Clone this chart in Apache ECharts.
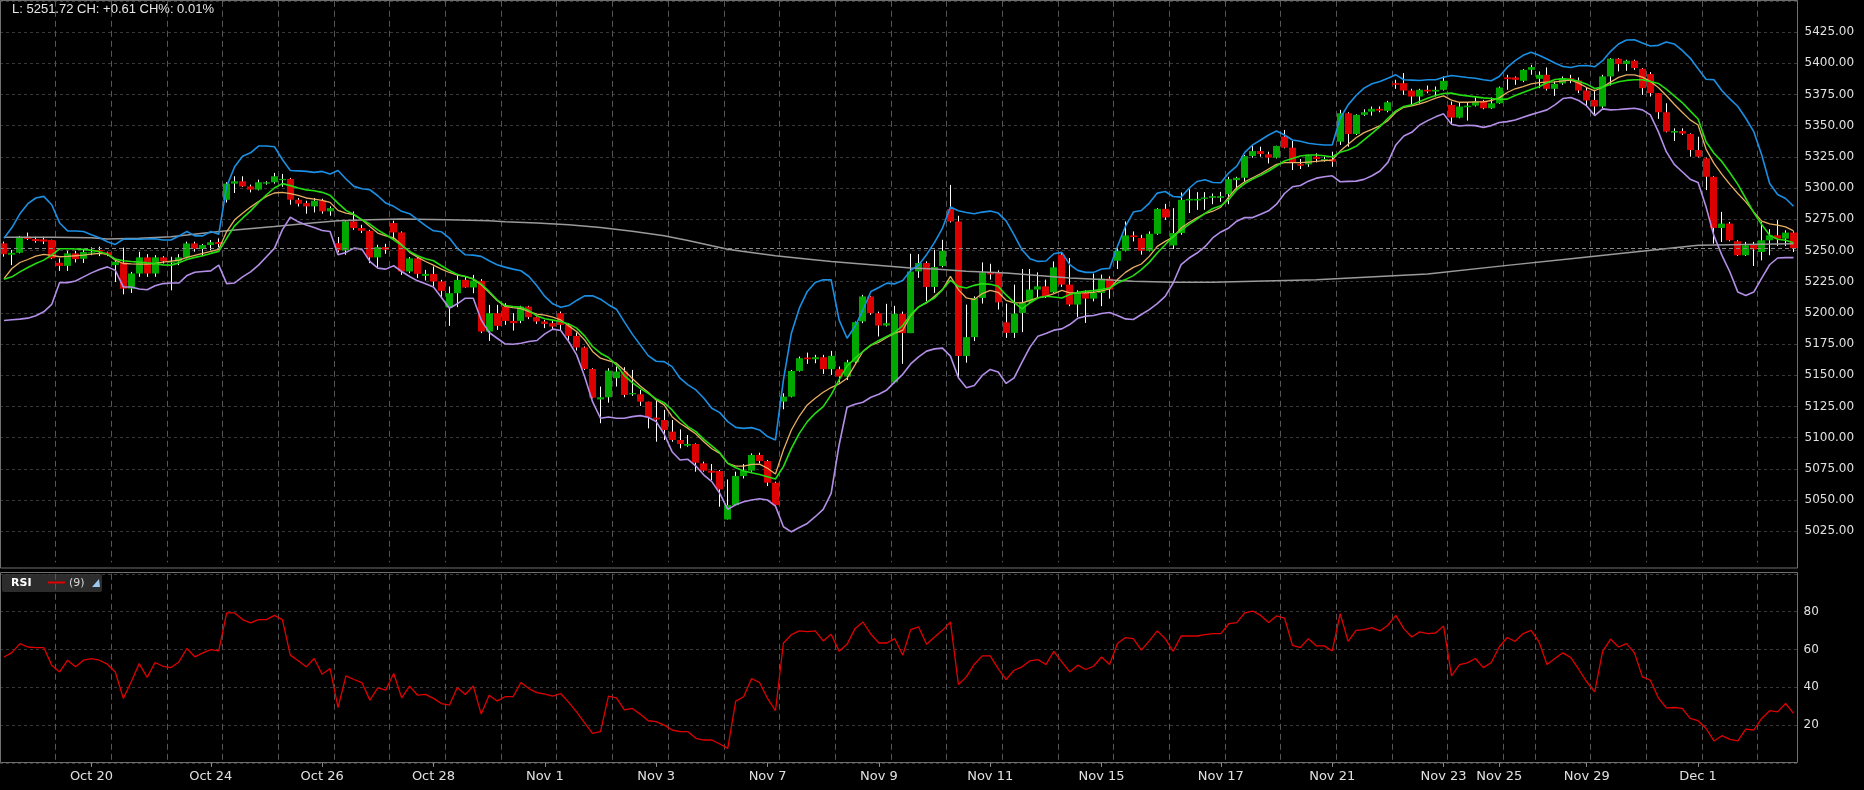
<!DOCTYPE html>
<html>
<head>
<meta charset="utf-8">
<title>Hourly candles with bands and RSI</title>
<script src="https://cdn.jsdelivr.net/npm/echarts@6/dist/echarts.min.js"></script>
<style>
  html, body { margin: 0; padding: 0; background: #000; }
  #chart { width: 1864px; height: 790px; }
</style>
</head>
<body>
<div id="chart"></div>
<script>
// hourly bars, Oct 18 - Dec 2 (7 bars a session, Nov 25 is a half session)
var dayBars = [7,7,7,7,7,7,7,7,7,7, 7,7,7,7,7,7,7,7,7,7, 7,7,7,7,7,7,7, 4, 7,7,7,7, 5];

var tickBars = [11, 26, 40, 54, 68, 82, 96, 110, 124, 138, 153, 167, 181, 188, 199, 213];
var tickText = ['Oct 20','Oct 24','Oct 26','Oct 28','Nov 1','Nov 3','Nov 7','Nov 9','Nov 11','Nov 15','Nov 17','Nov 21','Nov 23','Nov 25','Nov 29','Dec 1'];

var open = [
5255.6,5246.5,5248.1,5261.0,5259.1,5258.8,5258.3,5240.1,5237.6,5247.6,
5243.3,5247.5,5250.3,5248.4,5238.2,5240.3,5219.4,5231.5,5244.4,5231.5,
5244.4,5240.0,5240.9,5244.4,5255.6,5251.1,5254.3,5256.7,5290.6,5303.5,
5305.4,5301.3,5298.7,5303.5,5304.6,5306.2,5307.3,5290.6,5287.9,5285.3,
5289.8,5281.3,5255.8,5250.0,5273.2,5267.9,5265.7,5244.4,5252.6,5271.9,
5264.4,5233.1,5243.6,5229.6,5231.2,5225.1,5204.2,5215.7,5226.4,5220.3,
5225.6,5185.0,5199.7,5205.0,5193.5,5193.5,5205.0,5196.5,5193.0,5191.7,
5199.7,5190.3,5181.5,5172.2,5155.0,5130.6,5132.3,5147.6,5152.9,5134.7,
5134.7,5128.8,5116.0,5114.1,5104.8,5098.1,5093.5,5094.9,5079.4,5073.5,
5073.2,5034.4,5045.9,5069.2,5073.5,5086.1,5081.2,5063.9,5128.8,5132.8,
5153.4,5164.1,5162.8,5164.4,5154.8,5154.8,5148.9,5160.4,5193.1,5213.1,
5199.7,5189.8,5144.3,5199.2,5183.7,5233.2,5239.9,5220.7,5237.5,5283.1,
5273.2,5165.3,5180.5,5211.9,5232.4,5232.4,5192.4,5183.9,5199.9,5208.4,
5218.6,5221.2,5216.4,5246.6,5222.6,5206.6,5215.9,5211.4,5215.9,5227.4,
5241.7,5249.7,5262.0,5259.9,5249.7,5263.3,5283.3,5254.0,5263.9,5290.0,
5290.0,5291.3,5292.1,5292.1,5295.1,5306.3,5308.2,5325.6,5329.6,5327.0,
5324.3,5341.2,5332.3,5319.2,5318.9,5325.1,5321.6,5323.2,5337.1,5359.9,
5343.3,5358.6,5361.2,5363.4,5361.8,5384.0,5384.0,5378.1,5373.3,5378.7,
5377.3,5378.7,5366.6,5356.4,5364.7,5366.0,5369.8,5363.9,5367.9,5388.6,
5388.6,5385.9,5394.7,5387.5,5390.7,5379.5,5383.8,5388.0,5386.2,5378.1,
5370.6,5365.3,5389.4,5403.6,5399.3,5402.0,5395.5,5391.3,5376.0,5360.7,
5344.4,5345.7,5343.3,5330.4,5323.7,5309.0,5268.0,5271.5,5257.3,5246.1,
5254.6,5248.7,5258.1,5262.1,5259.4,5264.3
];
var close = [
5247.0,5248.1,5261.0,5259.1,5257.5,5257.0,5243.6,5237.6,5247.6,5243.0,
5248.7,5248.5,5249.0,5246.2,5240.9,5219.4,5231.5,5244.4,5231.5,5244.4,
5241.4,5241.0,5244.4,5255.6,5251.1,5254.3,5256.5,5255.1,5303.5,5305.4,
5301.3,5298.7,5304.6,5304.6,5309.4,5307.3,5290.6,5287.4,5285.3,5289.8,
5281.3,5283.9,5250.0,5273.2,5267.9,5265.7,5244.4,5252.6,5250.5,5264.4,
5233.1,5243.6,5231.2,5231.2,5225.1,5217.6,5215.7,5226.4,5220.3,5225.9,
5185.0,5199.7,5189.5,5193.5,5191.7,5205.0,5196.5,5193.0,5191.1,5189.0,
5190.3,5181.5,5172.2,5155.0,5132.0,5132.3,5153.7,5152.9,5134.2,5135.7,
5128.8,5116.0,5114.4,5106.1,5098.1,5094.9,5094.9,5079.9,5073.5,5071.9,
5058.5,5045.9,5069.2,5073.5,5086.1,5081.2,5063.9,5045.9,5132.8,5153.4,
5163.6,5162.8,5164.4,5154.8,5165.5,5148.9,5160.4,5192.5,5213.1,5199.7,
5189.8,5191.7,5199.2,5183.7,5233.1,5239.9,5220.7,5236.7,5249.7,5273.2,
5165.3,5180.5,5211.9,5232.4,5230.8,5208.4,5183.9,5199.4,5208.4,5218.6,
5221.2,5213.2,5236.4,5222.6,5206.6,5215.9,5211.4,5215.9,5227.4,5218.6,
5249.7,5262.0,5260.7,5249.7,5263.3,5283.3,5276.4,5263.9,5290.5,5291.3,
5291.3,5292.4,5293.5,5293.5,5307.1,5308.2,5325.6,5329.6,5327.2,5324.3,
5333.7,5332.3,5320.3,5317.8,5325.9,5323.2,5323.2,5321.1,5359.9,5343.3,
5358.6,5360.7,5363.4,5362.0,5368.7,5382.7,5378.1,5373.3,5378.7,5377.3,
5378.7,5385.9,5356.4,5365.3,5366.0,5369.3,5363.9,5367.9,5380.5,5387.2,
5386.7,5394.7,5396.9,5390.7,5379.5,5383.5,5388.0,5385.9,5378.1,5370.1,
5365.3,5389.4,5403.6,5399.3,5402.0,5396.1,5380.0,5376.0,5360.7,5345.2,
5345.7,5343.6,5330.4,5325.1,5309.0,5268.0,5271.5,5258.1,5246.1,5254.1,
5250.8,5258.1,5262.1,5259.4,5264.3,5251.72
];
var high = [
5257.0,5250.3,5261.6,5264.3,5261.0,5261.0,5258.6,5243.6,5249.7,5249.7,
5250.3,5252.4,5253.0,5249.0,5242.2,5252.2,5232.8,5248.9,5247.0,5246.2,
5245.4,5244.9,5247.0,5257.0,5257.0,5255.1,5258.3,5259.6,5304.6,5309.4,
5309.4,5302.7,5306.7,5305.4,5312.1,5311.3,5308.1,5292.0,5289.8,5292.0,
5291.4,5285.3,5260.7,5273.5,5281.2,5270.5,5266.5,5254.5,5255.3,5273.8,
5265.2,5244.6,5244.6,5234.4,5237.1,5226.4,5221.1,5231.2,5229.1,5230.4,
5227.0,5206.4,5206.4,5207.7,5199.7,5205.6,5205.6,5197.0,5194.3,5193.8,
5201.0,5191.7,5184.2,5173.0,5155.6,5140.9,5155.6,5156.9,5156.4,5154.2,
5138.2,5128.8,5129.6,5122.2,5114.1,5106.6,5102.1,5095.4,5080.7,5078.8,
5074.0,5066.5,5072.7,5078.8,5087.4,5087.9,5082.0,5064.7,5135.5,5154.2,
5164.9,5168.1,5166.3,5166.3,5169.5,5156.9,5162.3,5193.0,5214.4,5213.6,
5201.0,5207.2,5205.6,5201.0,5247.3,5247.0,5241.2,5250.5,5258.5,5302.5,
5277.7,5206.6,5213.2,5240.4,5239.3,5234.0,5207.4,5222.6,5235.1,5235.1,
5232.4,5226.6,5241.2,5248.4,5243.9,5218.0,5218.0,5231.4,5230.6,5229.2,
5253.7,5273.2,5265.2,5262.5,5265.2,5283.9,5287.3,5283.9,5296.4,5299.0,
5296.7,5296.7,5295.6,5296.9,5309.0,5309.0,5326.4,5333.9,5333.1,5329.1,
5333.9,5346.5,5337.7,5323.2,5326.4,5327.8,5325.1,5329.1,5362.6,5360.7,
5359.1,5363.1,5365.3,5365.3,5369.8,5386.7,5392.1,5379.5,5379.5,5382.1,
5381.3,5389.4,5369.3,5368.7,5368.7,5372.5,5370.6,5372.5,5381.3,5390.7,
5389.4,5395.3,5398.7,5393.4,5396.6,5385.4,5389.4,5390.7,5388.6,5380.5,
5378.7,5390.7,5404.1,5404.1,5402.8,5402.8,5396.1,5392.9,5376.0,5367.9,
5347.8,5347.8,5343.8,5341.1,5324.3,5309.5,5280.9,5272.8,5258.1,5256.8,
5256.8,5272.8,5267.0,5274.2,5266.1,5265.3
];
var low = [
5245.0,5238.2,5247.6,5258.3,5256.2,5255.1,5243.0,5233.6,5233.6,5240.3,
5240.0,5246.2,5245.4,5245.4,5224.7,5214.8,5215.9,5228.8,5228.8,5228.8,
5239.5,5218.0,5238.2,5243.6,5249.0,5245.4,5250.3,5252.4,5288.4,5296.0,
5300.8,5296.5,5298.1,5302.7,5303.5,5301.0,5286.6,5285.2,5279.4,5280.4,
5279.4,5277.8,5248.4,5246.5,5266.5,5263.9,5239.8,5235.8,5247.3,5258.5,
5230.4,5231.8,5227.8,5225.9,5221.1,5211.7,5189.5,5204.5,5220.0,5215.7,
5183.7,5177.5,5186.3,5190.3,5185.8,5191.7,5194.9,5191.1,5187.7,5186.3,
5185.8,5178.3,5169.8,5154.2,5131.5,5111.5,5128.0,5140.9,5132.3,5133.4,
5125.4,5107.4,5096.7,5098.1,5096.7,5091.4,5092.7,5072.7,5072.7,5066.0,
5044.6,5034.4,5045.9,5067.3,5072.7,5079.4,5061.2,5044.6,5122.7,5132.3,
5152.9,5159.1,5159.6,5151.0,5150.2,5144.1,5146.2,5159.6,5191.7,5198.4,
5181.0,5189.0,5143.5,5159.1,5183.7,5228.0,5209.2,5216.0,5236.4,5272.4,
5147.9,5160.0,5177.3,5207.4,5226.6,5202.6,5179.9,5179.9,5184.5,5207.4,
5211.9,5211.9,5215.9,5220.7,5205.3,5196.7,5191.9,5209.2,5205.3,5211.4,
5235.1,5249.2,5257.2,5246.6,5249.2,5262.5,5274.5,5251.1,5262.5,5279.9,
5282.5,5282.5,5287.0,5288.9,5287.0,5297.5,5305.0,5324.3,5325.1,5319.7,
5323.7,5331.8,5314.4,5315.2,5317.0,5320.5,5321.1,5317.0,5334.5,5333.1,
5342.5,5357.8,5358.0,5360.7,5360.7,5379.5,5374.6,5365.8,5367.9,5376.0,
5373.3,5378.1,5351.1,5355.9,5354.0,5365.3,5363.1,5363.4,5367.4,5378.7,
5382.7,5384.8,5390.7,5380.0,5378.1,5373.8,5382.7,5384.0,5376.0,5365.3,
5358.6,5363.9,5382.1,5393.4,5393.9,5394.7,5374.6,5373.3,5355.4,5344.6,
5337.7,5342.5,5325.1,5324.5,5298.3,5255.4,5256.8,5257.3,5245.5,5245.5,
5237.5,5242.0,5246.1,5253.6,5253.6,5248.7
];

// bollinger bands (blue upper, lilac lower)
var upperBand = [
5259.7,5268.3,5279.3,5287.4,5292.0,5293.3,5286.6,5272.0,5265.6,5265.6,
5265.1,5262.6,5260.2,5257.0,5254.8,5258.9,5258.9,5258.9,5259.1,5259.4,
5258.3,5258.3,5261.6,5265.1,5261.6,5261.6,5265.1,5262.9,5301.3,5317.0,
5325.5,5328.2,5333.6,5333.6,5333.1,5322.8,5314.0,5313.7,5313.3,5312.5,
5313.3,5311.2,5314.0,5307.2,5301.3,5299.4,5298.6,5293.8,5287.9,5285.3,
5281.3,5279.4,5274.6,5269.8,5265.7,5264.9,5259.9,5251.8,5246.5,5246.2,
5245.2,5241.7,5238.5,5236.6,5235.0,5233.7,5229.1,5221.6,5213.1,5207.2,
5204.5,5205.8,5209.9,5213.6,5213.6,5210.9,5206.5,5202.9,5192.7,5182.9,
5174.3,5165.7,5161.2,5160.9,5156.9,5147.6,5142.2,5138.2,5131.5,5123.5,
5120.0,5112.8,5108.2,5107.4,5108.0,5106.1,5100.8,5098.1,5146.2,5183.7,
5203.7,5217.1,5224.3,5226.4,5226.4,5194.3,5179.6,5189.0,5202.4,5217.1,
5220.3,5223.8,5223.2,5225.8,5234.0,5238.3,5246.6,5256.4,5267.9,5284.7,
5281.7,5280.4,5279.3,5280.7,5281.5,5279.9,5273.7,5262.5,5250.5,5243.4,
5241.2,5241.5,5247.3,5248.4,5238.6,5234.0,5232.4,5232.4,5235.1,5235.6,
5253.2,5269.2,5280.7,5282.0,5287.9,5295.9,5297.2,5293.2,5292.7,5299.8,
5305.2,5306.6,5304.4,5304.2,5312.2,5317.6,5328.6,5334.5,5338.5,5342.5,
5345.7,5342.5,5338.5,5337.4,5335.8,5335.0,5334.5,5334.5,5355.9,5366.6,
5374.1,5380.0,5383.5,5385.4,5388.0,5390.7,5386.7,5386.4,5386.1,5386.7,
5386.7,5388.8,5390.2,5389.4,5388.6,5388.0,5386.7,5385.9,5389.4,5396.6,
5402.0,5406.3,5408.7,5406.3,5403.3,5400.1,5397.4,5396.6,5397.9,5398.2,
5397.1,5402.0,5409.5,5415.4,5418.6,5418.8,5416.2,5413.8,5414.3,5417.0,
5415.4,5410.3,5404.1,5395.5,5387.2,5386.7,5377.9,5371.4,5365.3,5355.9,
5345.2,5326.4,5303.6,5294.8,5291.6,5285.4
];
var lowerBand = [
5193.8,5194.4,5194.9,5195.7,5197.6,5200.8,5206.7,5224.2,5224.2,5225.5,
5228.8,5232.0,5234.7,5236.8,5234.0,5220.7,5220.7,5219.1,5218.5,5221.7,
5223.4,5223.9,5223.9,5229.8,5232.5,5233.1,5233.6,5238.2,5223.4,5223.9,
5228.8,5232.8,5238.2,5244.9,5251.6,5266.4,5276.6,5272.9,5270.3,5268.4,
5266.0,5265.2,5246.5,5248.4,5251.8,5251.0,5241.2,5235.8,5235.0,5237.7,
5233.1,5229.1,5225.6,5223.2,5220.6,5212.3,5203.7,5207.2,5211.7,5211.7,
5194.3,5184.2,5179.6,5175.1,5174.8,5175.6,5177.0,5177.8,5183.1,5186.9,
5185.8,5177.0,5166.3,5148.9,5128.8,5115.5,5116.5,5115.5,5115.5,5116.8,
5117.6,5116.3,5112.8,5102.9,5088.7,5082.0,5082.6,5077.2,5070.0,5064.7,
5055.3,5042.5,5046.2,5048.6,5050.0,5051.0,5050.0,5045.1,5028.6,5024.5,
5028.0,5031.2,5036.6,5042.5,5055.3,5094.1,5124.3,5126.7,5128.3,5132.3,
5134.7,5138.2,5144.6,5150.7,5159.0,5164.7,5169.3,5171.1,5171.7,5165.3,
5147.9,5140.0,5141.8,5149.8,5154.6,5152.5,5143.4,5147.9,5160.5,5172.5,
5181.3,5183.4,5186.1,5187.1,5190.6,5195.6,5197.3,5197.8,5199.4,5200.2,
5197.8,5195.1,5194.6,5198.6,5202.6,5207.4,5213.2,5223.9,5238.6,5243.9,
5247.9,5253.0,5260.2,5264.8,5268.0,5273.4,5276.3,5276.3,5279.0,5281.7,
5287.0,5295.6,5301.0,5302.0,5305.5,5307.9,5309.0,5309.8,5305.0,5305.3,
5305.5,5306.9,5309.8,5313.6,5320.5,5334.5,5341.7,5344.6,5350.5,5354.0,
5357.0,5359.4,5351.1,5349.7,5350.3,5350.0,5348.6,5350.0,5352.5,5353.2,
5354.5,5356.7,5358.8,5360.7,5362.6,5366.6,5371.7,5372.5,5370.1,5365.8,
5358.0,5363.4,5362.6,5362.9,5363.4,5363.9,5362.6,5358.6,5345.2,5329.1,
5318.9,5313.0,5307.1,5304.4,5284.9,5261.6,5246.0,5232.7,5216.6,5213.9,
5216.6,5227.8,5238.5,5243.9,5244.2,5244.2
];

// two moving averages
var greenMa = [
5226.9,5228.8,5232.8,5236.3,5239.5,5242.2,5246.2,5251.3,5251.3,5251.1,
5250.8,5250.0,5249.0,5247.0,5243.0,5241.7,5241.1,5240.6,5240.0,5239.5,
5238.4,5238.2,5240.0,5242.7,5244.4,5245.7,5247.6,5249.2,5259.7,5269.6,
5275.8,5281.7,5288.4,5294.6,5300.0,5303.5,5301.9,5300.0,5298.5,5297.8,
5296.5,5294.1,5287.9,5282.1,5278.8,5274.6,5271.1,5266.5,5262.5,5258.5,
5254.0,5249.2,5245.7,5243.3,5241.7,5237.7,5233.9,5230.7,5229.1,5227.2,
5223.0,5217.1,5210.4,5205.8,5205.0,5204.5,5201.8,5197.6,5195.2,5194.1,
5193.0,5191.1,5187.7,5181.5,5173.0,5167.6,5164.2,5158.3,5149.7,5144.1,
5139.5,5135.5,5131.0,5128.0,5122.2,5114.7,5108.8,5104.8,5098.6,5093.3,
5087.9,5079.4,5075.9,5073.2,5071.9,5070.5,5068.7,5066.8,5076.7,5091.4,
5103.4,5112.8,5119.5,5124.8,5134.2,5146.2,5157.4,5163.6,5169.0,5174.3,
5177.8,5181.0,5184.2,5189.8,5198.5,5204.7,5208.4,5211.9,5218.6,5226.0,
5221.2,5219.9,5222.0,5223.4,5222.8,5221.2,5214.3,5208.4,5203.1,5207.9,
5211.9,5213.2,5212.7,5211.9,5214.6,5216.4,5217.2,5217.8,5218.6,5219.9,
5223.9,5226.6,5229.8,5234.6,5240.4,5247.9,5254.5,5261.2,5266.0,5270.8,
5275.1,5279.7,5283.6,5285.7,5290.8,5298.6,5303.6,5307.1,5310.1,5313.6,
5317.6,5321.6,5323.7,5325.6,5326.4,5326.4,5325.9,5324.8,5328.6,5330.4,
5333.4,5338.5,5343.8,5349.2,5355.9,5361.8,5365.3,5366.6,5369.3,5371.9,
5374.1,5375.7,5376.0,5374.6,5373.8,5373.0,5372.2,5371.7,5371.0,5371.2,
5374.1,5376.5,5378.9,5381.1,5384.3,5387.0,5387.5,5387.0,5385.6,5383.2,
5379.7,5380.8,5383.2,5385.1,5386.2,5386.7,5386.7,5385.4,5383.8,5379.2,
5373.8,5368.5,5361.8,5355.3,5337.1,5327.8,5321.1,5312.2,5302.9,5291.6,
5280.3,5270.7,5262.1,5258.9,5258.1,5256.2
];
var orangeMa = [
5227.4,5235.5,5240.3,5242.7,5245.4,5246.8,5246.0,5244.9,5245.2,5245.7,
5246.2,5247.0,5247.6,5247.0,5242.2,5239.5,5239.2,5239.0,5239.0,5239.5,
5240.6,5241.4,5242.2,5244.4,5246.0,5247.6,5249.2,5250.8,5265.1,5274.5,
5279.8,5284.7,5289.2,5293.3,5296.0,5296.5,5295.5,5294.1,5292.0,5291.1,
5290.1,5288.5,5282.1,5279.9,5278.6,5274.6,5269.2,5263.9,5261.7,5260.1,
5254.5,5248.4,5244.6,5241.1,5238.2,5235.0,5232.3,5230.2,5229.1,5227.0,
5222.4,5216.3,5209.9,5205.1,5204.2,5203.4,5201.0,5198.9,5198.1,5196.5,
5194.3,5189.5,5185.0,5178.3,5169.0,5163.6,5161.7,5159.6,5153.7,5147.3,
5141.4,5136.3,5130.2,5126.2,5116.8,5111.5,5107.4,5102.9,5096.7,5091.1,
5087.4,5079.4,5077.2,5077.2,5078.6,5078.8,5075.4,5070.8,5090.1,5106.1,
5117.3,5126.2,5131.5,5136.3,5140.1,5143.0,5147.6,5158.3,5169.0,5173.8,
5176.4,5180.2,5183.7,5186.0,5197.8,5204.7,5207.9,5213.2,5218.6,5229.2,
5218.6,5211.9,5210.6,5215.4,5218.0,5216.4,5210.0,5207.9,5207.9,5210.0,
5212.2,5213.2,5215.4,5218.0,5215.9,5215.9,5215.9,5216.4,5217.5,5219.1,
5226.6,5232.4,5236.4,5239.1,5245.2,5253.2,5257.2,5260.7,5267.9,5272.4,
5276.1,5279.5,5281.4,5284.6,5292.9,5300.4,5305.0,5308.2,5311.4,5315.2,
5318.9,5320.3,5320.3,5320.3,5320.8,5321.3,5321.9,5322.4,5329.6,5335.0,
5340.3,5344.4,5347.0,5350.0,5354.0,5360.7,5364.7,5365.8,5367.4,5369.5,
5372.0,5373.8,5370.4,5368.7,5368.7,5369.0,5369.0,5370.1,5372.2,5376.5,
5379.5,5381.3,5383.5,5384.5,5384.8,5385.1,5385.9,5386.4,5384.0,5380.5,
5377.9,5380.8,5384.8,5388.6,5390.7,5390.7,5388.8,5385.4,5380.5,5374.1,
5367.1,5360.7,5354.6,5350.5,5331.2,5319.7,5310.9,5302.9,5295.6,5288.9,
5280.9,5273.4,5271.2,5270.2,5268.8,5265.6
];

// long average, read at [bar, value]
var longMa = [
[0,5260.5],[6,5260.5],[11,5260.2],[13,5259.1],[17,5259.7],[21,5261.0],[25,5263.7],[29,5266.4],
[34,5269.1],[38,5271.6],[42,5273.8],[46,5274.6],[50,5275.1],[56,5274.6],[61,5273.8],[63,5273.0],
[67,5271.9],[71,5270.6],[75,5268.4],[79,5265.4],[83,5261.7],[86,5258.0],[89,5253.7],[91,5251.0],
[93,5249.2],[97,5245.7],[100,5243.8],[104,5241.1],[109,5238.5],[114,5235.8],[117,5235.1],[121,5233.2],
[126,5231.9],[130,5229.8],[134,5227.9],[138,5226.6],[142,5225.2],[147,5224.4],[152,5224.4],[165,5226.5],
[179,5231.0],[189,5238.0],[197,5243.4],[205,5248.7],[213,5254.1],[225,5255.4]
];

var rsi = [
56.0,58.3,63.1,61.3,61.0,61.0,51.7,48.1,54.3,50.8,
54.3,55.2,54.3,52.2,48.1,34.1,42.9,52.5,45.2,53.1,
51.1,50.4,53.4,60.5,56.1,58.2,59.9,59.2,79.3,79.3,
75.8,74.0,75.8,75.8,78.0,75.8,57.0,54.0,50.8,55.2,
46.9,49.9,29.3,46.0,44.1,42.5,33.2,39.7,38.5,47.3,
34.4,40.6,35.8,36.2,34.1,31.4,30.5,39.9,36.2,40.7,
25.8,35.8,32.7,35.0,35.0,42.5,39.3,37.2,36.4,35.3,
36.7,32.0,27.0,21.2,15.6,16.5,35.3,34.4,28.0,28.8,
25.8,22.3,21.8,20.0,17.4,16.5,16.5,13.0,12.1,12.1,
10.0,7.7,32.7,35.0,44.6,42.5,34.1,27.6,63.4,67.8,
69.8,69.4,69.8,64.5,68.0,59.1,62.7,71.0,74.5,68.0,
63.4,63.4,65.7,56.9,70.5,71.9,62.7,66.6,70.1,74.5,
41.5,45.5,52.2,56.6,56.6,49.9,44.1,49.0,50.8,54.0,
54.6,52.0,59.0,53.4,48.1,51.7,49.4,51.1,56.0,52.0,
63.1,66.3,65.7,59.6,64.5,69.8,65.7,59.0,67.1,67.1,
67.1,67.8,68.4,68.4,73.6,74.2,79.3,80.3,78.0,74.2,
77.7,76.6,62.2,61.0,65.7,61.9,61.9,59.2,78.9,64.3,
70.1,70.5,71.5,69.8,72.8,78.0,71.0,66.6,69.3,68.4,
68.7,72.4,46.0,52.0,52.9,55.2,50.4,53.1,61.3,66.3,
64.3,68.4,70.1,64.0,52.0,55.2,58.2,55.7,49.4,42.9,
37.6,59.0,65.4,61.3,63.1,58.2,45.5,43.7,34.4,29.1,
29.3,28.8,23.5,22.3,18.2,11.6,14.4,12.4,11.6,17.9,
17.4,23.5,27.6,27.0,31.4,26.2
];

// ---- build what the library needs ----
var cats = open.map(function (v, i) { return String(i); });
var candleRows = open.map(function (o, i) { return [i, o, close[i], low[i], high[i]]; });

var dayStart = {};
var n = 0;
dayBars.forEach(function (len) { dayStart[n] = true; n += len; });
var tickAt = {};
tickBars.forEach(function (b, k) { tickAt[b] = tickText[k]; });
var lastClose = close[close.length - 1];

var PRICE_MIN = 5000, PRICE_MAX = 5450, PRICE_STEP = 25;
// no grid line on the bottom tick, the panel frame sits just under it
var priceGridColors = [];
for (var v = PRICE_MIN; v <= PRICE_MAX; v += PRICE_STEP) {
  priceGridColors.push(v === PRICE_MIN ? 'rgba(0,0,0,0)' : '#383838');
}

var UP = '#00a800', DOWN = '#dd0000';

function renderCandle(params, api) {
  var i = api.value(0);
  var o = api.value(1), c = api.value(2), l = api.value(3), h = api.value(4);
  var pO = api.coord([i, o]), pC = api.coord([i, c]);
  var pH = api.coord([i, h]), pL = api.coord([i, l]);
  var bw = Math.round(api.size([1, 0])[0] * 0.88);
  var left = Math.round(pO[0] - bw / 2);
  var cx = left + bw / 2;
  var top = Math.min(pO[1], pC[1]);
  var hgt = Math.max(Math.abs(pO[1] - pC[1]), 1);
  return {
    type: 'group',
    children: [
      { type: 'line', shape: { x1: cx, y1: pH[1], x2: cx, y2: pL[1] }, style: { stroke: '#ffffff', lineWidth: 1 } },
      { type: 'rect', shape: { x: left, y: top, width: bw, height: hgt }, style: { fill: c >= o ? UP : DOWN } }
    ]
  };
}

var vGrid = { show: true, interval: function (i) { return !!dayStart[i]; }, lineStyle: { color: '#555555', type: [6, 4], width: 1 } };

var myChart = echarts.init(document.getElementById('chart'));

var option = {
  backgroundColor: '#000',
  animation: false,
  title: {
    text: 'L: 5251.72 CH: +0.61 CH%: 0.01%',
    left: 12, top: 3, padding: 0,
    textStyle: { color: '#e6e6e6', fontSize: 13, fontWeight: 'normal', fontFamily: 'Liberation Sans' }
  },
  grid: [
    { left: -5.1, width: 1802.6, top: 0.8, height: 561.6 },
    { left: -5.1, width: 1802.6, top: 573.8, height: 189.1 }
  ],
  xAxis: [
    {
      type: 'category', gridIndex: 0, data: cats, boundaryGap: true,
      axisLine: { show: false }, axisTick: { show: false }, axisLabel: { show: false },
      splitLine: vGrid
    },
    {
      type: 'category', gridIndex: 1, data: cats, boundaryGap: true,
      axisLine: { show: false },
      axisTick: {
        show: true, alignWithLabel: true, length: 4,
        interval: function (i) { return tickAt[i] !== undefined; },
        lineStyle: { color: '#8a8a8a' }
      },
      axisLabel: {
        interval: function (i) { return tickAt[i] !== undefined; },
        formatter: function (v, i) { return tickAt[i] || ''; },
        color: '#e0e0e0', fontSize: 13, fontFamily: 'DejaVu Sans', margin: 7
      },
      splitLine: vGrid
    }
  ],
  yAxis: [
    {
      type: 'value', gridIndex: 0, position: 'right',
      min: PRICE_MIN, max: PRICE_MAX, interval: PRICE_STEP,
      axisLine: { show: false }, axisTick: { show: false },
      axisLabel: {
        showMinLabel: false, showMaxLabel: false, margin: 7,
        color: '#e0e0e0', fontSize: 12, fontFamily: 'DejaVu Sans',
        formatter: function (v) { return v.toFixed(2); }
      },
      splitLine: { show: true, lineStyle: { color: priceGridColors, type: [3, 3], width: 1 } }
    },
    {
      type: 'value', gridIndex: 1, position: 'right',
      min: 0, max: 100, interval: 20,
      axisLine: { show: false }, axisTick: { show: false },
      axisLabel: {
        showMinLabel: false, showMaxLabel: false, margin: 6,
        color: '#e0e0e0', fontSize: 12, fontFamily: 'DejaVu Sans'
      },
      splitLine: { show: true, lineStyle: { color: '#383838', type: [3, 3], width: 1 } }
    }
  ],
  series: [
    {
      name: 'price', type: 'custom', xAxisIndex: 0, yAxisIndex: 0,
      renderItem: renderCandle, data: candleRows,
      encode: { x: 0, y: [1, 2, 3, 4] }, z: 2
    },
    {
      name: 'long', type: 'line', xAxisIndex: 0, yAxisIndex: 0, data: longMa,
      showSymbol: false, lineStyle: { color: '#9a9a9a', width: 1.5 }, z: 3,
      markLine: {
        silent: true, symbol: 'none', label: { show: false },
        lineStyle: { color: '#8c8c8c', type: [4, 3], width: 1 },
        data: [{ yAxis: lastClose }]
      }
    },
    {
      name: 'upper', type: 'line', xAxisIndex: 0, yAxisIndex: 0, data: upperBand,
      showSymbol: false, lineStyle: { color: '#1a8fe3', width: 1.6 }, z: 3
    },
    {
      name: 'lower', type: 'line', xAxisIndex: 0, yAxisIndex: 0, data: lowerBand,
      showSymbol: false, lineStyle: { color: '#b28ee6', width: 1.6 }, z: 3
    },
    {
      name: 'orange', type: 'line', xAxisIndex: 0, yAxisIndex: 0, data: orangeMa,
      showSymbol: false, lineStyle: { color: '#e8ae62', width: 1.3 }, z: 4
    },
    {
      name: 'green', type: 'line', xAxisIndex: 0, yAxisIndex: 0, data: greenMa,
      showSymbol: false, lineStyle: { color: '#22dd10', width: 1.6 }, z: 5
    },
    {
      name: 'RSI', type: 'line', xAxisIndex: 1, yAxisIndex: 1, data: rsi,
      showSymbol: false, lineStyle: { color: '#e00000', width: 1.3 }, z: 3
    }
  ],
  graphic: [
    { type: 'rect', silent: true, z: 100, shape: { x: 0.5, y: 0.5, width: 1797, height: 567.5 },
      style: { fill: 'none', stroke: '#707070', lineWidth: 1 } },
    { type: 'rect', silent: true, z: 100, shape: { x: 0.5, y: 572.5, width: 1797, height: 190 },
      style: { fill: 'none', stroke: '#707070', lineWidth: 1 } },
    {
      type: 'group', left: 2, top: 574, z: 101, silent: true,
      children: [
        { type: 'rect', shape: { x: 0, y: 0, width: 100, height: 18, r: 2 }, style: { fill: '#2c2c2c' } },
        { type: 'text', x: 9, y: 9.5, style: { text: 'RSI', fill: '#ffffff', font: 'bold 11px "DejaVu Sans"', verticalAlign: 'middle' } },
        { type: 'line', shape: { x1: 46, y1: 8.5, x2: 63, y2: 8.5 }, style: { stroke: '#e00000', lineWidth: 2 } },
        { type: 'text', x: 67, y: 9.5, style: { text: '(9)', fill: '#d8d8d8', font: '11px "DejaVu Sans"', verticalAlign: 'middle' } },
        { type: 'polygon', shape: { points: [[90, 13], [97, 5], [98, 13]] }, style: { fill: '#9cc8f0' } }
      ]
    }
  ]
};

myChart.setOption(option);
</script>
</body>
</html>
